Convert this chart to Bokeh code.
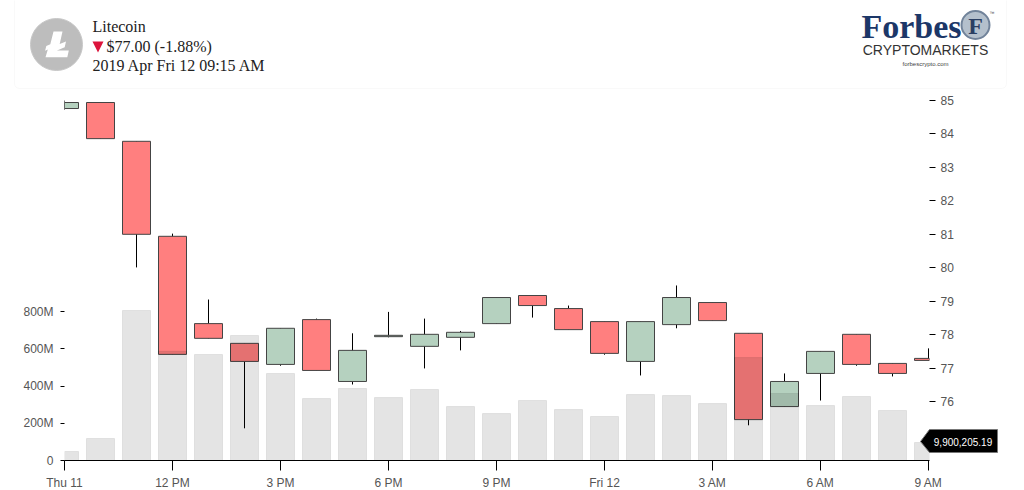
from bokeh.plotting import figure
from bokeh.models import ColumnDataSource, LinearAxis, Range1d, FixedTicker, BoxAnnotation
from bokeh.core.properties import value
from bokeh.embed import file_html
from bokeh.resources import INLINE

hours = list(range(25))
opens = [84.76, 84.94, 83.78, 80.94, 78.33, 77.74, 77.11, 78.45, 76.60, 77.94, 77.65, 77.92, 78.33,
         79.17, 78.78, 78.39, 77.20, 78.30, 78.96, 78.04, 75.85, 76.84, 78.01, 77.14, 77.29]
closes = [84.94, 83.86, 81.00, 77.41, 77.89, 77.20, 78.19, 76.93, 77.53, 77.98, 78.01, 78.07, 79.11,
          78.87, 78.15, 77.44, 78.39, 79.11, 78.42, 75.46, 76.60, 77.50, 77.11, 76.84, 77.23]
highs = [85.00, 84.94, 83.78, 81.02, 79.05, 77.74, 78.19, 78.48, 78.04, 78.68, 78.48, 78.11, 79.11,
         79.17, 78.87, 78.39, 78.39, 79.47, 78.96, 78.04, 76.84, 77.50, 78.01, 77.14, 77.59]
lows = [84.72, 83.86, 80.01, 77.41, 77.89, 75.20, 77.07, 76.93, 76.51, 77.92, 76.99, 77.53, 78.33,
        78.51, 78.15, 77.40, 76.78, 78.19, 78.42, 75.29, 75.85, 76.03, 77.07, 76.75, 77.23]
volumes = [48.5, 118, 805.5, 586.5, 569, 671, 467, 332.5, 386.5, 338, 381, 289.5, 252,
           322, 273.5, 236, 354, 348.5, 305.5, 552.5, 359.5, 295, 343.5, 268.5, 96.5]
x_tick_pos = [0, 3, 6, 9, 12, 15, 18, 21, 24]
x_tick_labels = ["Thu 11", "12 PM", "3 PM", "6 PM", "9 PM", "Fri 12", "3 AM", "6 AM", "9 AM"]
price_ticks = [75, 76, 77, 78, 79, 80, 81, 82, 83, 84, 85]
volume_ticks = [0, 200, 400, 600, 800]
volume_labels = ["0", "200M", "400M", "600M", "800M"]
coin_name = "Litecoin"
price_text = "$77.00 (-1.88%)"
date_text = "2019 Apr Fri 12 09:15 AM"
tooltip_text = "9,900,205.19"

UP, DOWN = "#b5d1bf", "#ff7f7f"
TXT = "#555555"
FONT = value("Liberation Sans")
SERIF = value("Liberation Serif")

# ---- chart
PX_H, PX_P = 36.0, 33.45
p = figure(frame_width=865, frame_height=368, x_range=Range1d(0, 865 / PX_H),
           y_range=Range1d(85 - 360 / PX_P, 85 + 8 / PX_P), output_backend="svg", toolbar_location=None,
           min_border_left=64, min_border_right=95, min_border_top=92, min_border_bottom=30,
           x_axis_type=None, y_axis_type=None, outline_line_color=None)
p.grid.visible = False
p.extra_y_ranges = {"vol": Range1d(0, 368 / 149 * 800)}


def style(ax):
    ax.major_label_text_font = "Liberation Sans"
    ax.major_label_text_font_size = "12px"
    ax.major_label_text_color = TXT
    ax.major_tick_line_color = "black"
    ax.minor_tick_line_color = None
    ax.major_tick_in = 0


bottom = LinearAxis(ticker=FixedTicker(ticks=x_tick_pos),
                    major_label_overrides=dict(zip(x_tick_pos, x_tick_labels)))
style(bottom)
bottom.major_tick_out = 10
bottom.major_label_standoff = 5
bottom.axis_line_color = "black"
p.add_layout(bottom, "below")

left = LinearAxis(y_range_name="vol", ticker=FixedTicker(ticks=volume_ticks),
                  major_label_overrides=dict(zip(volume_ticks, volume_labels)))
style(left)
left.major_tick_out = 4
left.major_label_standoff = 7
left.axis_line_color = None
p.add_layout(left, "left")

right = LinearAxis(ticker=FixedTicker(ticks=price_ticks))
style(right)
right.major_tick_out = 6
right.major_label_standoff = 5
right.axis_line_color = None
p.add_layout(right, "right")

src = ColumnDataSource(dict(
    x=hours, high=highs, low=lows, vol=volumes,
    top=[max(o, c) for o, c in zip(opens, closes)],
    bottom=[min(o, c) for o, c in zip(opens, closes)],
    color=[UP if c >= o else DOWN for o, c in zip(opens, closes)],
))
BAR = 28 / PX_H
p.segment("x", "high", "x", "low", source=src, line_color="black", line_width=1)
p.vbar("x", width=BAR, top="top", bottom="bottom", source=src, fill_color="color",
       line_color="#444444", line_width=1)
p.vbar("x", width=BAR, top="vol", bottom=0, source=src, y_range_name="vol", fill_color="black",
       fill_alpha=0.105, line_color="black", line_alpha=0.08, line_width=1)

# ---- header and value flag, a transparent layer in page pixels
h = figure(width=1024, height=490, x_range=Range1d(0, 1024), y_range=Range1d(490, 0),
           output_backend="svg", toolbar_location=None, min_border=0,
           x_axis_type=None, y_axis_type=None, outline_line_color=None,
           background_fill_color=None, border_fill_color=None,
           styles={"position": "absolute", "left": "0", "top": "0"})
h.grid.visible = False
h.add_layout(BoxAnnotation(left=14, right=1006, top=-20, bottom=88, fill_alpha=0,
                           line_color="#ececec", line_width=1, border_radius=5))
h.scatter([56], [44], size=52, marker="circle", fill_color="#bdbdbd", line_color="#c8c8c8", line_width=1)
h.patch([53, 62, 59.2, 65.5, 64.2, 57.7, 56.3, 68.3, 66.8, 45, 47.3, 44.6, 45.8, 49.8],
        [31, 31, 43.6, 41, 46.8, 49.4, 50, 50, 56.8, 56.8, 48.9, 50.2, 45.4, 43.7],
        fill_color="white", line_color=None)
h.text([92], [26], text=[coin_name], text_font=SERIF, text_font_size="16px", text_color="#222222",
       text_baseline="middle")
h.patch([92, 103, 97.5], [41, 41, 52], fill_color="#dc143c", line_color=None)
h.text([106], [46], text=[price_text], text_font=SERIF, text_font_size="16px", text_color="#222222",
       text_baseline="middle")
h.text([92], [65], text=[date_text], text_font=SERIF, text_font_size="16px", text_color="#222222",
       text_baseline="middle")
h.text([861], [26], text=["Forbes"], text_font=SERIF, text_font_style="bold", text_font_size="34px",
       text_color="#1c3768", text_baseline="middle")
h.scatter([975], [24.5], size=28, marker="circle", fill_color="#b4c0cc", line_color="#71839a", line_width=2)
h.text([975], [25], text=["F"], text_font=SERIF, text_font_style="bold", text_font_size="24px",
       text_color="#2a3f63", text_baseline="middle", text_align="center")
h.text([989], [12], text=["™"], text_font=FONT, text_font_size="5px", text_color="#444444",
       text_baseline="middle")
h.text([925], [49], text=["CRYPTOMARKETS"], text_font=FONT, text_font_size="14px", text_color="#333333",
       text_baseline="middle", text_align="center")
h.text([925], [63], text=["forbescrypto.com"], text_font=FONT, text_font_size="6px", text_color="#444444",
       text_baseline="middle", text_align="center")
h.patch([920, 929, 997, 997, 929], [441, 429, 429, 452, 452],
        fill_color="black", line_color="#777777", line_width=1)
h.text([962.5], [441.5], text=[tooltip_text], text_font=FONT, text_font_size="10px", text_color="white",
       text_baseline="middle", text_align="center")

open("out.html", "w").write(file_html([p, h], INLINE))
